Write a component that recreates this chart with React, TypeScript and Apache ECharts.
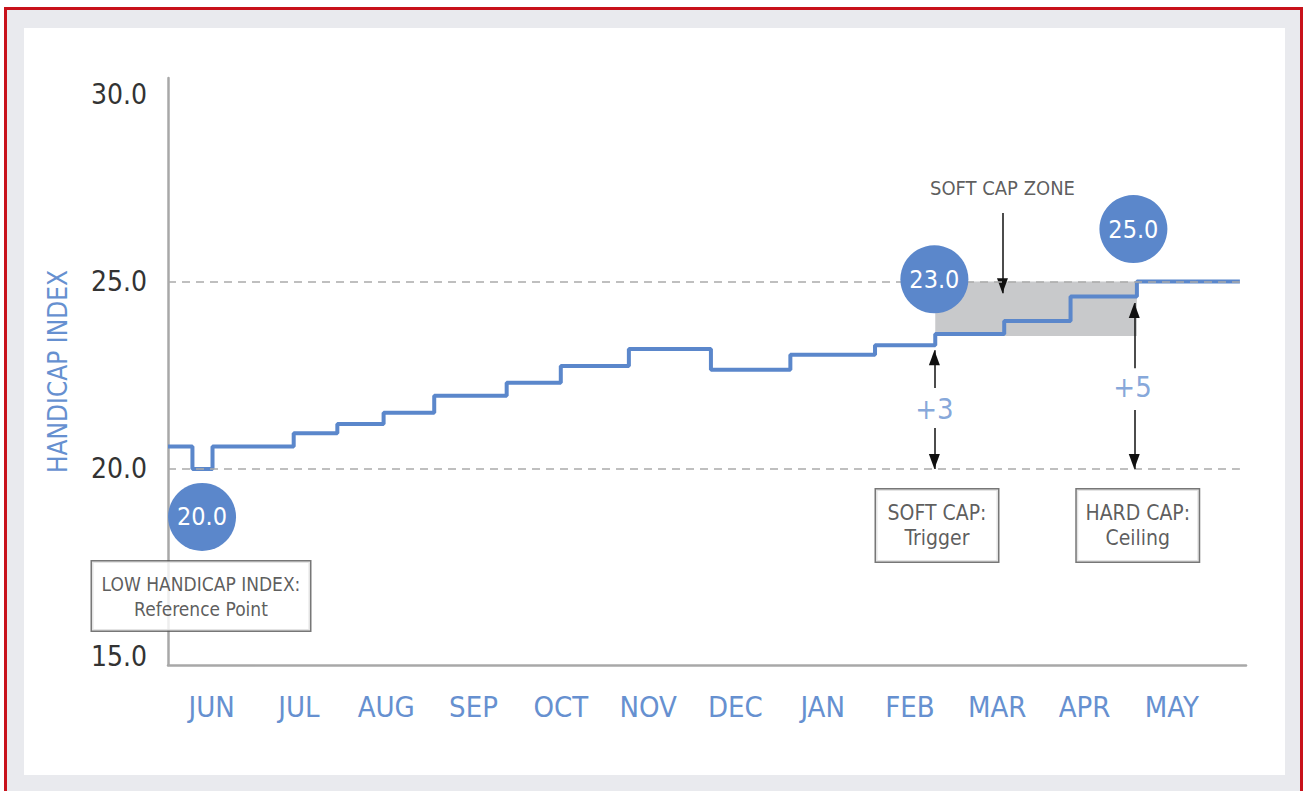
import React, { useEffect, useRef } from 'react';
import * as echarts from 'echarts';

// ---- data ----
const months = ['JUN', 'JUL', 'AUG', 'SEP', 'OCT', 'NOV', 'DEC', 'JAN', 'FEB', 'MAR', 'APR', 'MAY'];
const yTicks = [15, 20, 25, 30];
// handicap index step line: month position (0 = start of JUN) and value holding from there
const stepMonths = [0, 0.28, 0.51, 1.44, 1.94, 2.47, 3.05, 3.88, 4.5, 5.28, 6.22, 7.13, 8.1, 8.79, 9.58, 10.34, 11.1, 12.28];
const stepValues = [20.6, 20.0, 20.6, 20.95, 21.2, 21.5, 21.95, 22.3, 22.75, 23.2, 22.65, 23.05, 23.3, 23.6, 23.95, 24.6, 25.0, 25.0];
const capLevels = [20, 25];
const zoneX = [8.79, 11.1];
const zoneY = [23.55, 25.0];
const badgeTexts = ['20.0', '23.0', '25.0'];
const badgeX = [0.39, 8.78, 11.06];
const badgeY = [18.72, 25.06, 26.4];
const boxTexts = ['LOW HANDICAP INDEX:\nReference Point', 'SOFT CAP:\nTrigger', 'HARD CAP:\nCeiling'];
const boxX = [0.378, 8.81, 11.11];
const boxY = [16.61, 18.49, 18.49];
const deltaTexts = ['+3', '+5'];
const deltaX = [8.78, 11.05];
const deltaY = [21.6, 22.19];
const arrowX = [8.78, 8.78, 11.07, 11.07, 9.56];
const arrowFrom = [22.16, 21.09, 22.69, 21.57, 26.83];
const arrowTo = [23.17, 20.0, 24.43, 20.0, 24.69];
const zoneTitle = 'SOFT CAP ZONE';
const zoneTitleX = 9.56;
const zoneTitleY = 27.49;

const FONT = "'Liberation Sans Narrow', 'Arial Narrow', 'DejaVu Sans Condensed', Roboto, sans-serif";
const BLUE = '#5b87cb';
const LABEL_BLUE = '#6690d0';

function buildOption(): any {
  const boxWidths = [218, 122, 122];
  const boxFont = [19, 21, 21];
  const lineEnd = stepMonths[stepMonths.length - 1];
  return {
    animation: false,
    grid: { left: 168, right: 60, top: 78, bottom: 126, containLabel: false },
    xAxis: {
      type: 'value',
      min: 0,
      max: 12.35,
      axisLine: { show: true, onZero: false, lineStyle: { color: '#a8a8a8', width: 2.5 } },
      axisTick: { show: false },
      splitLine: { show: false },
      axisLabel: {
        customValues: months.map((_, i) => i + 0.5),
        formatter: (v: number) => months[Math.floor(v)] ?? '',
        color: LABEL_BLUE,
        fontSize: 29,
        fontFamily: FONT,
        margin: 27,
      },
    },
    yAxis: {
      type: 'value',
      min: 14.77,
      max: 30.43,
      axisLine: { show: true, onZero: false, lineStyle: { color: '#a8a8a8', width: 2.5 } },
      axisTick: { show: false },
      splitLine: { show: false },
      axisLabel: {
        customValues: yTicks,
        formatter: (v: number) => v.toFixed(1),
        color: '#333333',
        fontSize: 28,
        fontFamily: FONT,
        margin: 21,
      },
      name: 'HANDICAP INDEX',
      nameLocation: 'middle',
      nameRotate: 90,
      nameGap: 97,
      nameTextStyle: { color: LABEL_BLUE, fontSize: 26, fontFamily: FONT },
    },
    series: [
      {
        type: 'line',
        data: [],
        z: 1,
        silent: true,
        markArea: {
          silent: true,
          itemStyle: { color: '#c8c9cb' },
          data: [[{ coord: [zoneX[0], zoneY[0]] }, { coord: [zoneX[1], zoneY[1]] }]],
        },
        markLine: {
          silent: true,
          symbol: 'none',
          label: { show: false },
          lineStyle: { type: [8, 6], color: '#aaaaaa', width: 1.5 },
          data: capLevels.map((c) => [{ coord: [0, c] }, { coord: [lineEnd, c] }]),
        },
      },
      {
        type: 'line',
        z: 3,
        step: 'end',
        symbol: 'none',
        silent: true,
        lineStyle: { color: BLUE, width: 4 },
        data: stepMonths.map((m, i) => [m, stepValues[i]]),
      },
      {
        type: 'line',
        data: [],
        z: 4,
        silent: true,
        markLine: {
          silent: true,
          symbol: 'none',
          label: { show: false },
          lineStyle: { type: 'solid', color: '#111111', width: 1.5 },
          data: arrowX.map((x, i) => [{ coord: [x, arrowFrom[i]] }, { coord: [x, arrowTo[i]] }]),
        },
      },
      {
        // arrow heads, tip on the end of each arrow
        type: 'scatter',
        z: 4,
        silent: true,
        clip: false,
        symbol: 'triangle',
        symbolSize: [11, 15],
        itemStyle: { color: '#111111', opacity: 1 },
        data: arrowX.map((x, i) => {
          const up = arrowTo[i] > arrowFrom[i];
          return {
            value: [x, arrowTo[i]],
            symbolRotate: up ? 0 : 180,
            symbolOffset: [0, up ? 7.5 : -7.5],
          };
        }),
      },
      {
        type: 'scatter',
        z: 5,
        silent: true,
        symbol: 'circle',
        symbolSize: 68,
        itemStyle: { color: BLUE, opacity: 1 },
        label: {
          show: true,
          position: 'inside',
          formatter: '{b}',
          color: '#ffffff',
          fontSize: 25,
          fontFamily: FONT,
        },
        data: badgeTexts.map((t, i) => ({ name: t, value: [badgeX[i], badgeY[i]] })),
      },
      {
        type: 'scatter',
        z: 6,
        silent: true,
        symbolSize: 0,
        clip: false,
        label: {
          show: true,
          position: 'inside',
          formatter: '{b}',
          color: '#333333',
          fontSize: 21,
          lineHeight: 25,
          fontFamily: FONT,
          align: 'center',
          backgroundColor: '#ffffff',
          borderColor: '#555555',
          borderWidth: 1.5,
          padding: [10, 0, 10, 0],
        },
        data: boxTexts.map((t, i) => ({
          name: t,
          value: [boxX[i], boxY[i]],
          label: {
            width: boxWidths[i],
            fontSize: boxFont[i],
            padding: i === 0 ? [9, 0, 10, 0] : [11, 0, 11, 0],
          },
        })),
      },
      {
        type: 'scatter',
        z: 6,
        silent: true,
        symbolSize: 0,
        clip: false,
        label: {
          show: true,
          position: 'inside',
          formatter: '{b}',
          color: LABEL_BLUE,
          fontSize: 29,
          fontFamily: FONT,
          backgroundColor: '#ffffff',
          padding: [1, 2],
        },
        data: deltaTexts.map((t, i) => ({ name: t, value: [deltaX[i], deltaY[i]] })),
      },
      {
        type: 'scatter',
        z: 6,
        silent: true,
        symbolSize: 0,
        clip: false,
        label: {
          show: true,
          position: 'inside',
          formatter: '{b}',
          color: '#333333',
          fontSize: 20,
          fontFamily: FONT,
        },
        data: [{ name: zoneTitle, value: [zoneTitleX, zoneTitleY] }],
      },
    ],
  };
}

export default function App() {
  const ref = useRef<HTMLDivElement>(null);
  useEffect(() => {
    const chart = echarts.init(ref.current!, null, { renderer: 'svg' });
    chart.setOption(buildOption());
    return () => chart.dispose();
  }, []);
  return (
    <div style={{ position: 'fixed', left: 0, top: 0, width: 1306, height: 791, background: '#ffffff', overflow: 'hidden' }}>
      <div
        style={{
          position: 'absolute',
          left: 4,
          top: 7,
          width: 1293,
          height: 800,
          border: '3px solid #c8121b',
          background: '#e9eaee',
        }}
      />
      <div style={{ position: 'absolute', left: 24, top: 28, width: 1261, height: 747, background: '#ffffff' }} />
      <div ref={ref} style={{ position: 'absolute', left: 0, top: 0, width: 1306, height: 791 }} />
    </div>
  );
}
